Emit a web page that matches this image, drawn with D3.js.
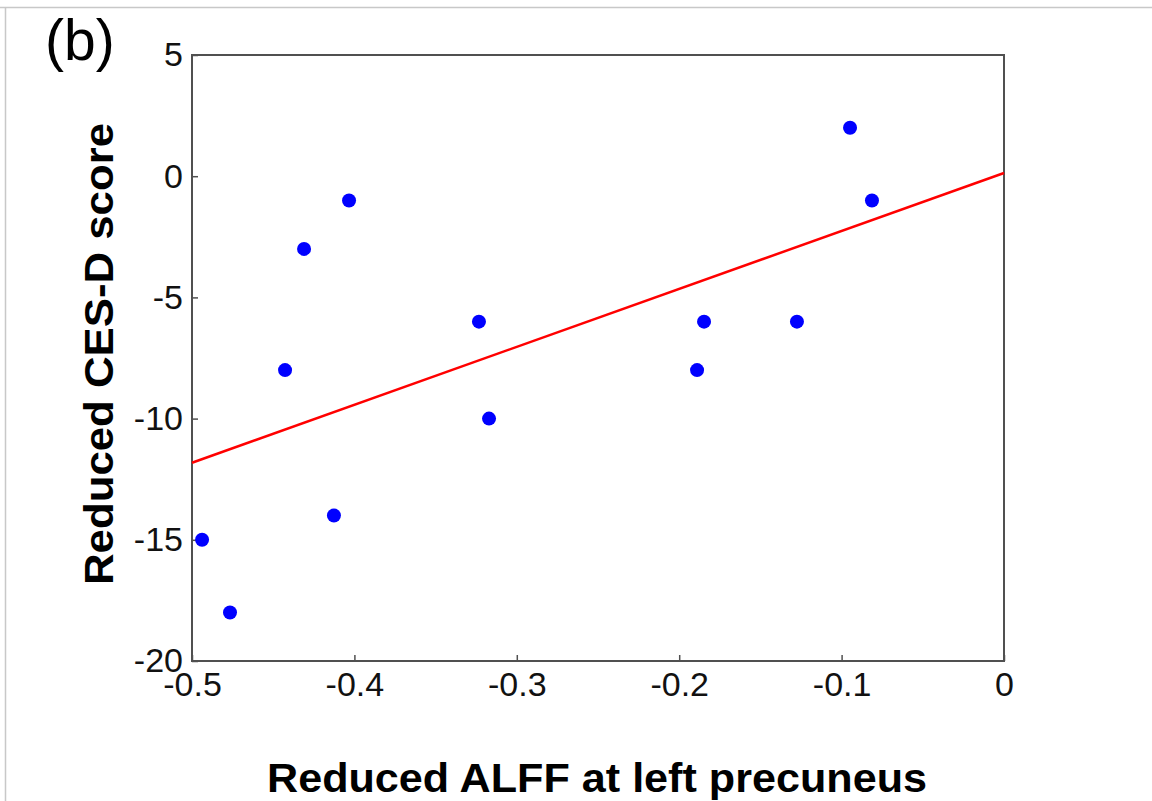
<!DOCTYPE html>
<html>
<head>
<meta charset="utf-8">
<script src="https://cdn.jsdelivr.net/npm/d3@7"></script>
<style>
  html, body { margin: 0; padding: 0; background: #fff; }
  svg { display: block; }
</style>
</head>
<body>
<svg id="chart" width="1152" height="801"></svg>
<script>
// Data
const alff = [-0.4938, -0.4766, -0.4427, -0.4310, -0.4033, -0.4126, -0.3233, -0.3171, -0.1890, -0.1847, -0.1275, -0.0948, -0.0813];
const cesd = [-15, -18, -8, -3, -1, -14, -6, -10, -8, -6, -6, 2, -1];
const fitX = [-0.5, 0];
const fitY = [-11.82, 0.13];
const xTicks = [-0.5, -0.4, -0.3, -0.2, -0.1, 0];
const yTicks = [5, 0, -5, -10, -15, -20];
const xTickLabels = ["-0.5", "-0.4", "-0.3", "-0.2", "-0.1", "0"];
const yTickLabels = ["5", "0", "-5", "-10", "-15", "-20"];

const svg = d3.select("#chart");
const W = 1152, H = 801;
const pL = 192, pR = 1004, pT = 55, pB = 661;

const x = d3.scaleLinear().domain([-0.5, 0]).range([pL, pR]);
const y = d3.scaleLinear().domain([-20, 5]).range([pB, pT]);

// outer light frame lines
svg.append("line").attr("x1", 0).attr("x2", W).attr("y1", 7.5).attr("y2", 7.5)
  .attr("stroke", "#c8c8c8").attr("stroke-width", 1.5);
svg.append("line").attr("x1", 5.5).attr("x2", 5.5).attr("y1", 7).attr("y2", H)
  .attr("stroke", "#c8c8c8").attr("stroke-width", 1.5);

const axisColor = "#505050";
const font = "Liberation Sans, Arial, sans-serif";

// x axis
const xAxis = d3.axisBottom(x).tickValues(xTicks)
  .tickFormat((d, i) => xTickLabels[i]).tickSizeInner(-6).tickSizeOuter(0).tickPadding(11);
const gx = svg.append("g").attr("transform", `translate(0,${pB})`).call(xAxis);
gx.select(".domain").remove();
gx.selectAll(".tick line").attr("stroke", axisColor).attr("stroke-width", 1.5);
gx.selectAll(".tick text").attr("font-family", font).attr("font-size", 34)
  .attr("fill", "#111");

// y axis
const yAxis = d3.axisLeft(y).tickValues(yTicks)
  .tickFormat((d, i) => yTickLabels[i]).tickSizeInner(-6).tickSizeOuter(0).tickPadding(9);
const gy = svg.append("g").attr("transform", `translate(${pL},0)`).call(yAxis);
gy.select(".domain").remove();
gy.selectAll(".tick line").attr("stroke", axisColor).attr("stroke-width", 1.5);
gy.selectAll(".tick text").attr("font-family", font).attr("font-size", 34)
  .attr("fill", "#111");

// box
svg.append("rect").attr("x", pL).attr("y", pT)
  .attr("width", pR - pL).attr("height", pB - pT)
  .attr("fill", "none").attr("stroke", axisColor).attr("stroke-width", 2);

// fit line
svg.append("line")
  .attr("x1", x(fitX[0])).attr("y1", y(fitY[0]))
  .attr("x2", x(fitX[1])).attr("y2", y(fitY[1]))
  .attr("stroke", "#ff0000").attr("stroke-width", 2.5);

// points
svg.append("g").selectAll("circle").data(alff).join("circle")
  .attr("cx", d => x(d)).attr("cy", (d, i) => y(cesd[i]))
  .attr("r", 7).attr("fill", "#0000ff");

// titles
svg.append("text").attr("x", 597).attr("y", 792)
  .attr("text-anchor", "middle").attr("font-family", font)
  .attr("font-weight", "bold").attr("font-size", 41).attr("fill", "#000")
  .attr("textLength", 660).attr("lengthAdjust", "spacingAndGlyphs")
  .text("Reduced ALFF at left precuneus");

svg.append("text").attr("transform", `translate(113,354) rotate(-90)`)
  .attr("text-anchor", "middle").attr("font-family", font)
  .attr("font-weight", "bold").attr("font-size", 41).attr("fill", "#000")
  .attr("textLength", 462).attr("lengthAdjust", "spacingAndGlyphs")
  .text("Reduced CES-D score");

svg.append("text").attr("x", 45).attr("y", 60)
  .attr("font-family", font).attr("font-size", 57).attr("fill", "#000")
  .text("(b)");
</script>
</body>
</html>
